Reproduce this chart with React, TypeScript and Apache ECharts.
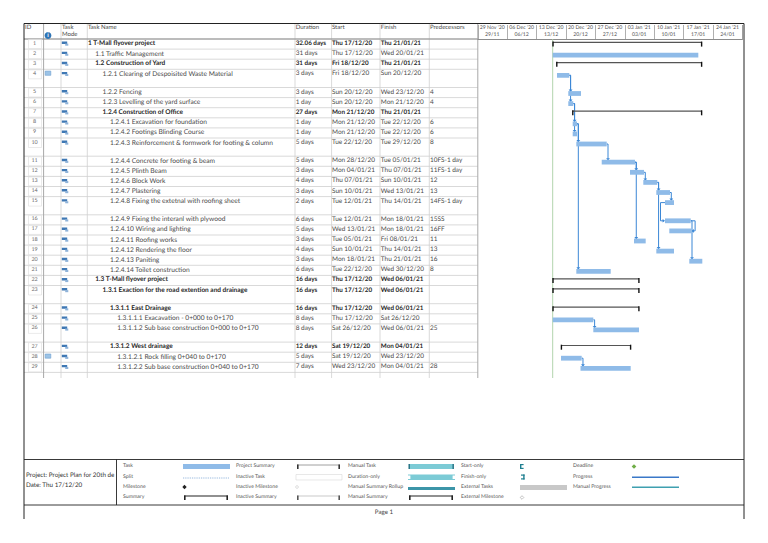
import React, { useEffect, useRef } from "react";
import * as echarts from "echarts";

const ids = Array.from({ length: 29 }, (_, i) => i + 1);
const taskNames = [
  "1 T-Mall flyover project", "1.1 Traffic Management", "1.2 Construction of Yard",
  "1.2.1 Clearing of Despoisited Waste Material", "1.2.2 Fencing", "1.2.3 Levelling of the yard surface",
  "1.2.4 Construction of Office", "1.2.4.1 Excavation for foundation", "1.2.4.2 Footings Blinding Course",
  "1.2.4.3 Reinforcement & formwork for footing & column", "1.2.4.4 Concrete for footing & beam", "1.2.4.5 Plinth Beam",
  "1.2.4.6 Block Work", "1.2.4.7 Plastering", "1.2.4.8 Fixing the extetnal with roofing sheet",
  "1.2.4.9 Fixing the interanl with plywood", "1.2.4.10 Wiring and lighting", "1.2.4.11 Roofing works",
  "1.2.4.12 Rendering the floor", "1.2.4.13 Paniting", "1.2.4.14 Toilet construction",
  "1.3 T-Mall flyover project", "1.3.1 Exaction for the road extention and drainage", "1.3.1.1 East Drainage",
  "1.3.1.1.1 Exacavation - 0+000 to 0+170", "1.3.1.1.2 Sub base construction 0+000 to 0+170", "1.3.1.2 West drainage",
  "1.3.1.2.1 Rock filling 0+040 to 0+170", "1.3.1.2.2 Sub base construction 0+040 to 0+170",
];
const durations = [
  "32.06 days", "31 days", "31 days", "3 days", "3 days", "1 day", "27 days", "1 day", "1 day", "5 days",
  "5 days", "3 days", "4 days", "3 days", "2 days", "6 days", "5 days", "3 days", "4 days", "3 days", "6 days",
  "16 days", "16 days", "16 days", "8 days", "8 days", "12 days", "5 days", "7 days",
];
const startDates = [
  "Thu 17/12/20", "Thu 17/12/20", "Fri 18/12/20", "Fri 18/12/20", "Sun 20/12/20", "Sun 20/12/20", "Mon 21/12/20",
  "Mon 21/12/20", "Mon 21/12/20", "Tue 22/12/20", "Mon 28/12/20", "Mon 04/01/21", "Thu 07/01/21", "Sun 10/01/21",
  "Tue 12/01/21", "Tue 12/01/21", "Wed 13/01/21", "Tue 05/01/21", "Sun 10/01/21", "Mon 18/01/21", "Tue 22/12/20",
  "Thu 17/12/20", "Thu 17/12/20", "Thu 17/12/20", "Thu 17/12/20", "Sat 26/12/20", "Sat 19/12/20", "Sat 19/12/20",
  "Wed 23/12/20",
];
const finishDates = [
  "Thu 21/01/21", "Wed 20/01/21", "Thu 21/01/21", "Sun 20/12/20", "Wed 23/12/20", "Mon 21/12/20", "Thu 21/01/21",
  "Tue 22/12/20", "Tue 22/12/20", "Tue 29/12/20", "Tue 05/01/21", "Thu 07/01/21", "Sun 10/01/21", "Wed 13/01/21",
  "Thu 14/01/21", "Mon 18/01/21", "Mon 18/01/21", "Fri 08/01/21", "Thu 14/01/21", "Thu 21/01/21", "Wed 30/12/20",
  "Wed 06/01/21", "Wed 06/01/21", "Wed 06/01/21", "Sat 26/12/20", "Wed 06/01/21", "Mon 04/01/21", "Wed 23/12/20",
  "Mon 04/01/21",
];
const predecessors = [
  "", "", "", "", "4", "4", "", "6", "6", "8", "10FS-1 day", "11FS-1 day", "12", "13", "14FS-1 day", "15SS", "16FF",
  "11", "13", "16", "8", "", "", "", "", "25", "", "", "28",
];
const summaryIds = [1, 3, 7, 22, 23, 24, 27];
const boldIds = summaryIds;
const tallIds = [4, 10, 15, 23, 26];
const noteIds = [4, 28];

// bar extents, in days after 29 Nov 2020
const barStart = [
  17.86, 17.81, 18.76, 18.83, 21.52, 21.52, 22.57, 22.57, 22.57, 23.43, 29.48, 36.21, 39.38, 42.48, 44.55, 44.55,
  45.57, 37.17, 42.48, 50.33, 23.43, 17.86, 17.86, 17.86, 17.81, 27.48, 19.86, 19.79, 24.43,
];
const barEnd = [
  53.29, 52.48, 53.29, 21.76, 24.55, 22.71, 53.29, 23.6, 23.6, 30.67, 37.4, 39.55, 42.71, 45.74, 46.69, 50.67,
  50.86, 39.95, 46.69, 53.43, 31.62, 38.36, 38.36, 38.36, 27.48, 38.36, 36.38, 24.71, 36.38,
];
const links: [number, number, string][] = [
  [4, 5, "FS"], [4, 6, "FS"], [6, 8, "FS"], [6, 9, "FS"], [8, 10, "FS"], [8, 21, "FS"], [10, 11, "FS"], [11, 12, "FS"],
  [11, 18, "FS"], [12, 13, "FS"], [13, 14, "FS"], [13, 19, "FS"], [14, 15, "FS"], [15, 16, "SS"], [16, 17, "FF"],
  [16, 20, "FS"], [25, 26, "FS"], [28, 29, "FS"],
];
const weekDays = [0, 7, 14, 21, 28, 35, 42, 49, 56];
const weekTop = ["29 Nov '20", "06 Dec '20", "13 Dec '20", "20 Dec '20", "27 Dec '20", "03 Jan '21", "10 Jan '21", "17 Jan '21", "24 Jan '21"];
const weekBottom = ["29/11", "06/12", "13/12", "20/12", "27/12", "03/01", "10/01", "17/01", "24/01"];
const statusDay = [17.81];
const legendCols = [
  ["Task", "Split", "Milestone", "Summary"],
  ["Project Summary", "Inactive Task", "Inactive Milestone", "Inactive Summary"],
  ["Manual Task", "Duration-only", "Manual Summary Rollup", "Manual Summary"],
  ["Start-only", "Finish-only", "External Tasks", "External Milestone"],
  ["Deadline", "Progress", "Manual Progress"],
];

const FONT = "Lato";
const TABLE_TOP = 39;
const GRID_LEFT = 477.9;
const GRID_W = 264.6;
const ROW_H = 10.1;
const TALL_H = 18.2;
const GRID_H = 339;
const BAR = "#8fbbe8";
const LINK = "#3b87d6";

const rowTops: number[] = [];
ids.reduce((acc, id) => {
  rowTops.push(acc);
  return acc + (tallIds.includes(id) ? TALL_H : ROW_H);
}, 0);
const rowsEnd = rowTops[28] + ROW_H;

function txt(x: number, y: number, text: string, o: any = {}) {
  return {
    type: "text",
    x,
    y,
    silent: true,
    style: {
      text,
      fontFamily: FONT,
      fontSize: o.size ?? 6.65,
      fontWeight: o.bold ? "bold" : "normal",
      fill: o.color ?? "#4a4a4a",
      align: o.align ?? "left",
      verticalAlign: "middle",
    },
  };
}
function rect(x: number, y: number, w: number, h: number, fill: string, stroke?: string) {
  return { type: "rect", silent: true, shape: { x, y, width: w, height: h }, style: { fill, stroke: stroke ?? "none", lineWidth: stroke ? 0.6 : 0 } };
}
function line(x1: number, y1: number, x2: number, y2: number, stroke: string, lw = 0.7, dash?: number[]) {
  const style: any = { stroke, lineWidth: lw };
  if (dash) style.lineDash = dash;
  return { type: "line", silent: true, shape: { x1, y1, x2, y2 }, style };
}
function diamond(cx: number, cy: number, r: number, fill: string, stroke?: string) {
  return {
    type: "polygon",
    silent: true,
    shape: { points: [[cx, cy - r], [cx + r, cy], [cx, cy + r], [cx - r, cy]] },
    style: { fill, stroke: stroke ?? "none", lineWidth: 0.5 },
  };
}
function summarySwatch(x1: number, x2: number, y: number, color: string, cap: string, lw: number) {
  return [
    line(x1, y, x2, y, color, lw),
    rect(x1, y - 0.5, 1.6, 4.6, cap),
    rect(x2 - 1.6, y - 0.5, 1.6, 4.6, cap),
  ];
}

function buildTable() {
  const out: any[] = [];
  const vx = [43.6, 61, 87.3, 295, 331.6, 380, 429.3, 477.8];
  const bottom = TABLE_TOP + GRID_H;
  rowTops.forEach((t) => out.push(line(24, TABLE_TOP + t, 477.8, TABLE_TOP + t, "#cfcfcf", 0.8)));
  out.push(line(24, TABLE_TOP + rowsEnd, 477.8, TABLE_TOP + rowsEnd, "#cfcfcf", 0.8));
  vx.forEach((x, i) => out.push(line(x, 24, x, bottom, i === 0 || i === 7 ? "#a8a8a8" : "#cfcfcf", i === 0 || i === 7 ? 1 : 0.8)));
  out.push(line(24, TABLE_TOP, 477.8, TABLE_TOP, "#8c8c8c", 1));

  const hs = { size: 6 };
  out.push(txt(25, 27, "ID", hs));
  out.push(txt(62, 27, "Task", hs));
  out.push(txt(62, 34.5, "Mode", hs));
  out.push(txt(88, 27, "Task Name", hs));
  out.push(txt(295.7, 27, "Duration", hs));
  out.push(txt(332, 27, "Start", hs));
  out.push(txt(380.8, 27, "Finish", hs));
  out.push(txt(430, 27, "Predecessors", hs));
  out.push({ type: "circle", silent: true, shape: { cx: 48, cy: 35.5, r: 3.4 }, style: { fill: "#2e75b6" } });
  out.push(txt(48, 35.7, "i", { size: 6, bold: true, color: "#ffffff", align: "center" }));

  ids.forEach((id, i) => {
    const top = TABLE_TOP + rowTops[i];
    const cy = top + 4.5;
    const bold = boldIds.includes(id);
    const level = taskNames[i].split(" ")[0].split(".").length - 1;
    const color = bold ? "#262626" : "#4a4a4a";
    const ds = bold ? 6.3 : 6.45;
    out.push(rect(28.5, top + 0.6, 13, 8.9, "#ffffff", "#dcdcdc"));
    out.push(txt(34.5, cy, String(id), { size: 5.4, align: "center", color: "#666" }));
    if (noteIds.includes(id)) {
      out.push(rect(45.2, top + 1.8, 5.6, 4.2, "#9cc3e6", "#6d9fd0"));
    }
    out.push(rect(61.8, top + 2.6, 5.4, 2.4, "#3f78b4"));
    out.push(rect(65.2, top + 4.6, 3.1, 2.1, "#8fb3d9"));
    out.push(txt(88 + level * 7.3, cy, taskNames[i], { bold, color, size: bold ? 6.5 : 6.65 }));
    out.push(txt(295.7, cy, durations[i], { bold, color, size: ds }));
    out.push(txt(332, cy, startDates[i], { bold, color, size: ds }));
    out.push(txt(380.8, cy, finishDates[i], { bold, color, size: ds }));
    out.push(txt(430, cy, predecessors[i], { color, size: 6.45 }));
  });
  return out;
}

function buildFrame() {
  const out: any[] = [];
  const black = "#222";
  out.push(line(GRID_LEFT + GRID_W, 25, GRID_LEFT + GRID_W, TABLE_TOP, "#9a9a9a", 0.8));
  out.push(line(24, 23.5, 744, 23.5, black, 1));
  out.push(line(24, 23.5, 24, 519, black, 1));
  out.push(line(744, 23.5, 744, 519, black, 1));
  out.push(line(24, 459.5, 744, 459.5, black, 0.9));
  out.push(line(24, 505, 744, 505, black, 0.9));
  out.push(line(116.5, 459.5, 116.5, 505, black, 0.9));
  out.push(txt(26, 475.5, "Project: Project Plan for 20th de", { size: 6.3, color: "#333" }));
  out.push(txt(26, 485, "Date: Thu 17/12/20", { size: 6.3, color: "#333" }));
  out.push(txt(384, 512.5, "Page 1", { size: 6.2, align: "center", color: "#444" }));

  const colX = [123, 236, 348, 461, 573];
  const rowY = [466, 476.5, 487, 497];
  legendCols.forEach((labels, c) =>
    labels.forEach((t, r) => out.push(txt(colX[c], rowY[r], t, { size: 5.2, color: "#555" })))
  );
  out.push(rect(183, 464, 47, 5, BAR));
  out.push(line(183, 478, 229, 478, "#7fa8d6", 0.9, [0.9, 0.9]));
  out.push(diamond(184.5, 487, 2.2, "#222"));
  out.push(...summarySwatch(184, 228, 496, "#222", "#222", 1.2));
  out.push(...summarySwatch(297, 340, 465, "#888", "#333", 0.8));
  out.push(rect(296, 474.5, 46, 5.5, "#ffffff", "#d8d8d8"));
  out.push(diamond(297, 487, 2, "#eeeeee", "#dddddd"));
  out.push(...summarySwatch(297, 340, 496, "#bbb", "#555", 0.8));
  out.push(rect(409, 464, 44, 5, "#7ccbd6"));
  out.push(rect(408.5, 464, 1.4, 5, "#1f6f80"));
  out.push(rect(452.5, 464, 1.4, 5, "#1f6f80"));
  out.push(rect(408, 474.5, 47, 5.5, "#7ccbd6"));
  out.push(rect(408, 475.5, 2.4, 3.5, "#ffffff"));
  out.push(rect(452.6, 475.5, 2.4, 3.5, "#ffffff"));
  out.push(rect(408, 487, 47, 3, "#3c95a8"));
  out.push(...summarySwatch(409, 453, 496, "#222", "#222", 1.2));
  out.push(rect(520, 464, 1.4, 5, "#1f7f90"), rect(520, 464, 3.6, 1.2, "#1f7f90"), rect(520, 467.8, 3.6, 1.2, "#1f7f90"));
  out.push(rect(523.2, 474.5, 1.4, 5, "#1f7f90"), rect(521, 474.5, 3.6, 1.2, "#1f7f90"), rect(521, 478.3, 3.6, 1.2, "#1f7f90"));
  out.push(rect(520, 485, 47, 5, "#c8c8c8"));
  out.push(diamond(522, 497.5, 1.8, "#ffffff", "#888"));
  out.push(diamond(634, 466.5, 2.3, "#70ad47"));
  out.push(rect(632, 476.6, 47, 1.3, "#3a78c8"));
  out.push(rect(632, 486.6, 47, 1.3, "#3fa0b0"));
  return out;
}

export default function App() {
  const ref = useRef<HTMLDivElement>(null);
  useEffect(() => {
    document.body.style.margin = "0";
    const chart = echarts.init(ref.current!, undefined, { renderer: "svg" });
    const barData = ids.map((id, i) => [barStart[i], barEnd[i], rowTops[i], summaryIds.includes(id) ? 1 : 0]);
    const linkData = links.map(([a, b, type]) => [
      barStart[a - 1], barEnd[a - 1], rowTops[a - 1],
      barStart[b - 1], barEnd[b - 1], rowTops[b - 1], type,
    ]);
    chart.setOption({
      animation: false,
      grid: { left: GRID_LEFT, top: TABLE_TOP, width: GRID_W, height: GRID_H },
      xAxis: {
        type: "value",
        position: "top",
        min: 0,
        max: 63,
        interval: 7,
        axisLine: { show: true, lineStyle: { color: "#8c8c8c", width: 1 } },
        axisTick: { show: true, length: 14, lineStyle: { color: "#9a9a9a", width: 0.8 } },
        splitLine: { show: false },
        axisLabel: {
          show: true,
          margin: 0.5,
          align: "left",
          hideOverlap: false,
          formatter: (v: number) => {
            const i = weekDays.indexOf(v);
            return i >= 0 ? `{a|${weekTop[i]}}\n{a|${weekBottom[i]}}` : "";
          },
          rich: {
            a: { width: 28.8, align: "center", fontFamily: FONT, fontSize: 5.2, lineHeight: 6.8, color: "#555" },
          },
        },
      },
      yAxis: { type: "value", inverse: true, min: 0, max: GRID_H, show: false, splitLine: { show: false } },
      graphic: { elements: [...buildTable(), ...buildFrame()] },
      series: [
        {
          type: "custom",
          name: "Status date",
          silent: true,
          clip: false,
          z: 1,
          data: statusDay.map((d) => [d]),
          renderItem: (_: any, api: any) => {
            const x = api.coord([api.value(0), 0])[0];
            return {
              type: "line",
              shape: { x1: x, y1: TABLE_TOP, x2: x, y2: TABLE_TOP + GRID_H },
              style: { stroke: "#a9cfa4", lineWidth: 0.9 },
            };
          },
        },
        {
          type: "custom",
          name: "Links",
          silent: true,
          clip: false,
          z: 2,
          data: linkData,
          encode: { x: [0, 1, 3, 4], y: [2, 5] },
          renderItem: (_: any, api: any) => {
            const ax0 = api.coord([api.value(0), 0])[0];
            const ax1 = api.coord([api.value(1), 0])[0];
            const bx0 = api.coord([api.value(3), 0])[0];
            const bx1 = api.coord([api.value(4), 0])[0];
            const ay = api.coord([0, api.value(2)])[1] + 6;
            const bTop = api.coord([0, api.value(5)])[1] + 3.6;
            const by = bTop + 2.4;
            const type = api.value(6);
            const ls = { stroke: LINK, lineWidth: 1, fill: "none" };
            let pts: number[][];
            let arrow: number[][];
            if (type === "SS") {
              const xv = ax0 - 4.5;
              pts = [[ax0, ay], [xv, ay], [xv, by], [bx0 - 1, by]];
              arrow = [[bx0, by], [bx0 - 2.4, by - 1.8], [bx0 - 2.4, by + 1.8]];
            } else if (type === "FF") {
              const xv = ax1 + 4.4;
              pts = [[ax1, ay], [xv, ay], [xv, by], [bx1 + 1, by]];
              arrow = [[bx1, by], [bx1 + 2.4, by - 1.8], [bx1 + 2.4, by + 1.8]];
            } else {
              const xv = ax1 + 1.3;
              pts = [[ax1, ay], [xv, ay], [xv, bTop - 1]];
              arrow = [[xv, bTop + 0.8], [xv - 1.9, bTop - 1.6], [xv + 1.9, bTop - 1.6]];
            }
            return {
              type: "group",
              children: [
                { type: "polyline", shape: { points: pts }, style: ls },
                { type: "polygon", shape: { points: arrow }, style: { fill: LINK } },
              ],
            };
          },
        },
        {
          type: "custom",
          name: "Tasks",
          silent: true,
          clip: false,
          z: 3,
          data: barData,
          encode: { x: [0, 1], y: 2 },
          renderItem: (_: any, api: any) => {
            const x0 = api.coord([api.value(0), 0])[0];
            const x1 = api.coord([api.value(1), 0])[0];
            const top = api.coord([0, api.value(2)])[1];
            if (api.value(3) === 1) {
              const y = top + 3.4;
              return {
                type: "group",
                children: [
                  { type: "rect", shape: { x: x0, y: y - 0.6, width: x1 - x0, height: 1.2 }, style: { fill: "#555" } },
                  { type: "rect", shape: { x: x0 - 0.6, y: y - 0.8, width: 1.4, height: 5 }, style: { fill: "#111" } },
                  { type: "rect", shape: { x: x1 - 0.8, y: y - 0.8, width: 1.4, height: 5 }, style: { fill: "#111" } },
                ],
              };
            }
            return { type: "rect", shape: { x: x0, y: top + 3.6, width: x1 - x0, height: 4.8 }, style: { fill: BAR } };
          },
        },
      ],
    });
    return () => chart.dispose();
  }, []);
  return (
    <div
      ref={ref}
      style={{ position: "absolute", left: 0, top: 0, width: 768, height: 543, background: "#fff", textRendering: "geometricPrecision" }}
    />
  );
}
